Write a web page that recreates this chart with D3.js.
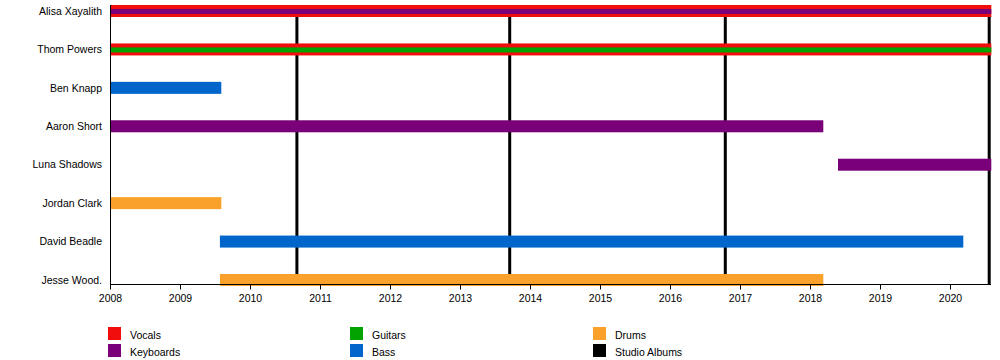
<!DOCTYPE html>
<html><head><meta charset="utf-8">
<script src="https://cdn.jsdelivr.net/npm/d3@7"></script>
<style>body{margin:0;background:#fff}svg{display:block;font-family:"Liberation Sans",Arial,sans-serif}</style>
</head><body>
<svg id="c" width="1000" height="360"></svg>
<script>
const members = ["Alisa Xayalith","Thom Powers","Ben Knapp","Aaron Short","Luna Shadows","Jordan Clark","David Beadle","Jesse Wood."];
const roles = ["Vocals","Keyboards","Guitars","Bass","Drums","Studio Albums"];
const roleColors = ["#f20d0d","#7a007a","#00a300","#0066cc","#f9a12b","#000000"];
// main bars: member, role, start, end
const barMember = ["Alisa Xayalith","Thom Powers","Ben Knapp","Aaron Short","Luna Shadows","Jordan Clark","David Beadle","Jesse Wood."];
const barRole   = ["Vocals","Vocals","Bass","Keyboards","Keyboards","Drums","Bass","Drums"];
const barStart  = [2008, 2008, 2008, 2008, 2018.4, 2008, 2009.57, 2009.57];
const barEnd    = [2020.59, 2020.59, 2009.59, 2018.19, 2020.59, 2009.59, 2020.19, 2018.19];
// secondary (inner) bars
const subMember = ["Alisa Xayalith","Thom Powers"];
const subRole   = ["Keyboards","Guitars"];
const subStart  = [2008, 2008];
const subEnd    = [2020.59, 2020.59];
const albums = [2010.67, 2013.71, 2016.79, 2020.56];
const tickYears = [2008,2009,2010,2011,2012,2013,2014,2015,2016,2017,2018,2019,2020];

const svg = d3.select("#c");
const x = d3.scaleLinear().domain([2008, 2020]).range([110, 950]);
const y = d3.scalePoint().domain(members).range([11, 280]);
const color = d3.scaleOrdinal().domain(roles).range(roleColors);

// album lines
svg.append("g").selectAll("line").data(albums).join("line")
  .attr("x1", d => x(d)).attr("x2", d => x(d))
  .attr("y1", 5).attr("y2", 285)
  .attr("stroke", "#000").attr("stroke-width", 3);

// main bars
const bh = 12;
svg.append("g").selectAll("rect").data(barMember.map((m,i)=>i)).join("rect")
  .attr("x", i => x(barStart[i])).attr("width", i => x(barEnd[i]) - x(barStart[i]))
  .attr("y", i => y(barMember[i]) - bh/2).attr("height", bh)
  .attr("fill", i => color(barRole[i]));
const sh = 5;
svg.append("g").selectAll("rect").data(subMember.map((m,i)=>i)).join("rect")
  .attr("x", i => x(subStart[i])).attr("width", i => x(subEnd[i]) - x(subStart[i]))
  .attr("y", i => y(subMember[i]) - sh/2 + 0.5).attr("height", sh)
  .attr("fill", i => color(subRole[i]));

// axes
const xAxis = d3.axisBottom(x).tickValues(tickYears).tickFormat(d3.format("d")).tickSize(5).tickSizeOuter(0);
const gx = svg.append("g").attr("transform", "translate(0,284.5)").call(xAxis);
gx.select(".domain").attr("d", `M${x(2008)},0H991`).attr("stroke","#000");
gx.selectAll(".tick line").attr("stroke","#000");
gx.selectAll("text").attr("font-size", 10.5).attr("fill","#000").attr("dy","0.9em").attr("y",8.5)
  .attr("font-family","'Liberation Sans',Arial,sans-serif");

svg.append("line").attr("x1",110.5).attr("x2",110.5).attr("y1",5).attr("y2",285).attr("stroke","#000");

svg.append("g").selectAll("text").data(members).join("text")
  .attr("x", 102).attr("y", d => y(d)).attr("dy","0.35em")
  .attr("text-anchor","end").attr("font-size", 10.5).attr("fill","#000").text(d => d);

// legend
const legCols = [108, 350, 593];
const legRowsY = [327, 344];
const leg = svg.append("g").selectAll("g").data(roles).join("g")
  .attr("transform", (d,i) => `translate(${legCols[Math.floor(i/2)]},${legRowsY[i%2]})`);
leg.append("rect").attr("width",13).attr("height",13).attr("fill", d => color(d));
leg.append("text").attr("x",22).attr("y",8).attr("dy","0.35em").attr("font-size",10.5).attr("fill","#000").text(d=>d);
</script>
</body></html>
